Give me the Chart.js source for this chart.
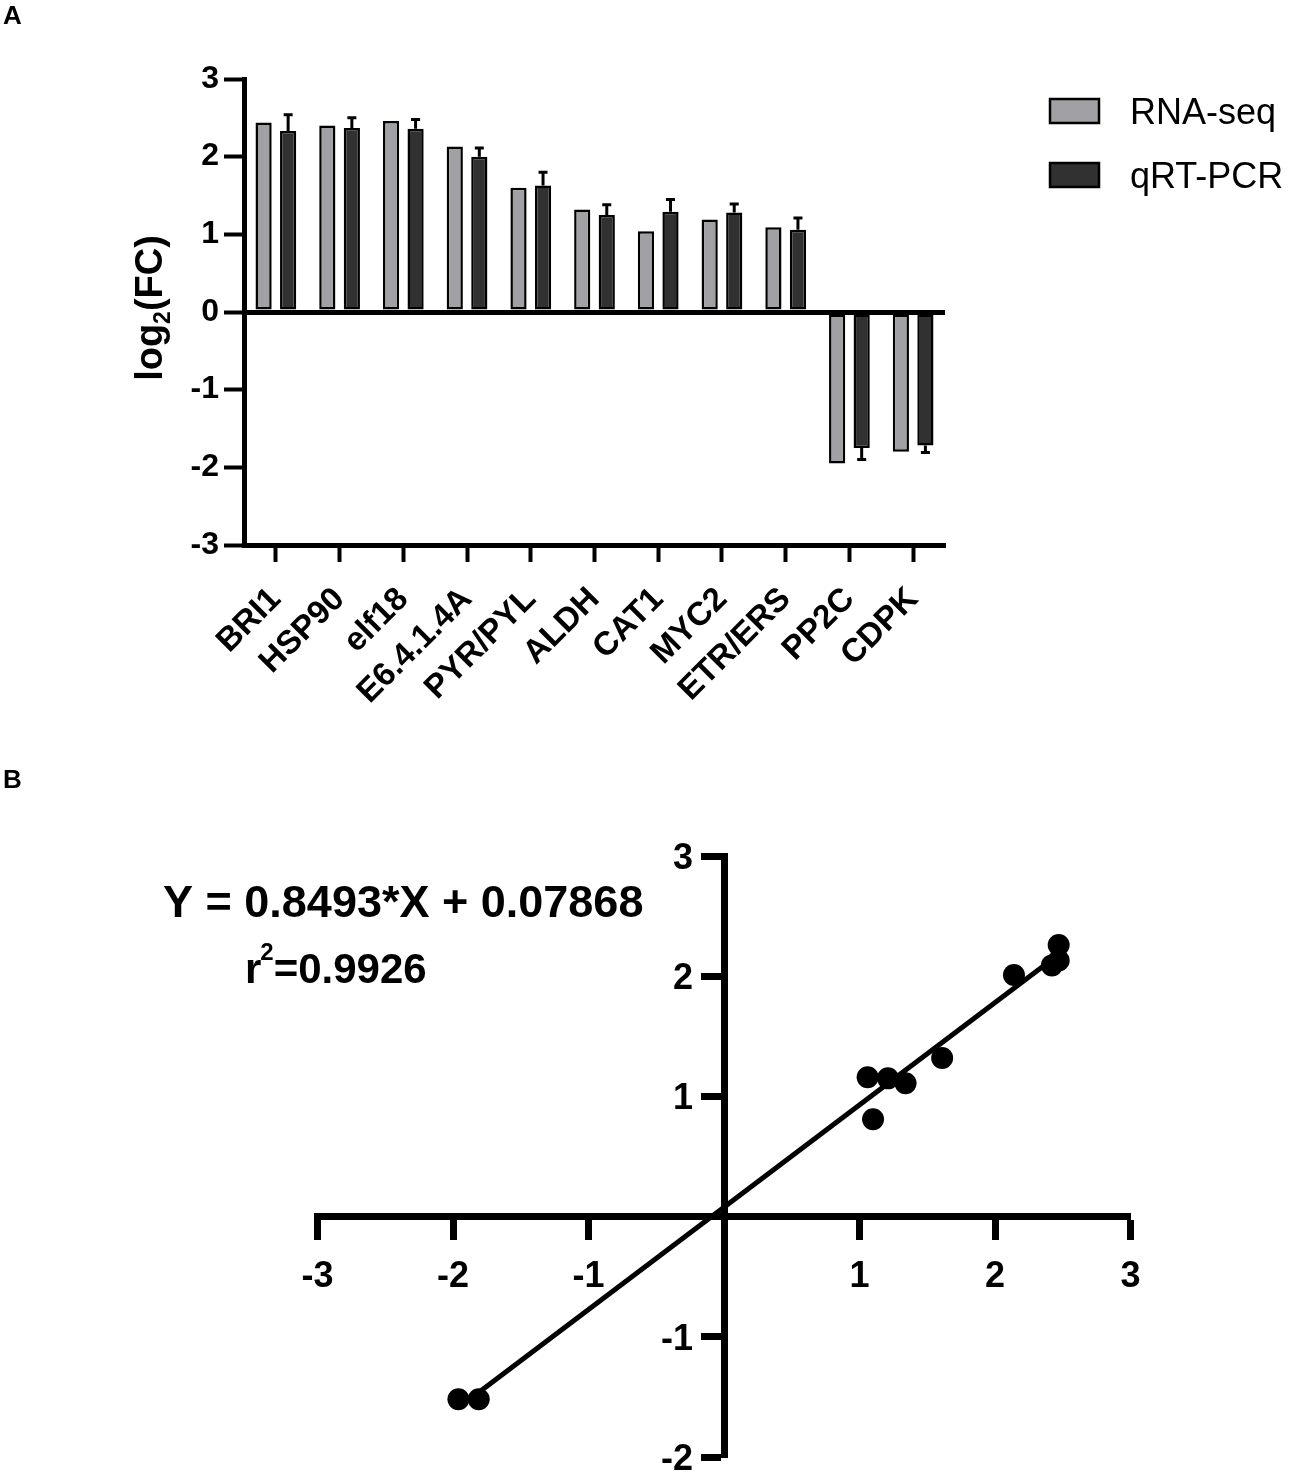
<!DOCTYPE html>
<html>
<head>
<meta charset="utf-8">
<script src="https://cdn.jsdelivr.net/npm/chart.js@4.4.1/dist/chart.umd.min.js"></script>
<style>
  html, body { margin: 0; padding: 0; background: #fff; overflow: hidden; }
  #wrap { position: relative; width: 1292px; height: 1473px; overflow: hidden; background: #fff; }
  canvas { position: absolute; left: 0; }
  #barChart { top: 0; }
  #scatterChart { top: 740px; }
</style>
</head>
<body>
<div id="wrap">
  <canvas id="barChart" width="1292" height="740"></canvas>
  <canvas id="scatterChart" width="1292" height="760"></canvas>
</div>
<script>
// Data
const genes = ['BRI1', 'HSP90', 'elf18', 'E6.4.1.4A', 'PYR/PYL', 'ALDH', 'CAT1', 'MYC2', 'ETR/ERS', 'PP2C', 'CDPK'];
const rnaSeq = [2.44, 2.40, 2.46, 2.13, 1.60, 1.32, 1.04, 1.19, 1.09, -1.95, -1.80];
const qrtPcr = [2.33, 2.37, 2.36, 2.00, 1.63, 1.25, 1.29, 1.28, 1.06, -1.75, -1.72];
const qrtErr = [0.21, 0.13, 0.12, 0.11, 0.17, 0.13, 0.16, 0.11, 0.15, 0.15, 0.09];
const yTicksA = [-3, -2, -1, 0, 1, 2, 3];

// scatter (panel B)
const scatterX = [2.47, 2.42, 2.47, 2.14, 1.61, 1.34, 1.06, 1.21, 1.10, -1.96, -1.81];
const scatterY = [2.13, 2.09, 2.26, 2.01, 1.32, 1.11, 1.16, 1.15, 0.81, -1.52, -1.52];
const fitLineX = [-1.96, 2.47];
const fitLineY = [-1.59, 2.18];
const yTicksB = [-2, -1, 1, 2, 3];
const equationText = 'Y = 0.8493*X + 0.07868';
const r2Text = '=0.9926';

const FONT = "'Liberation Sans', Arial, Helvetica, sans-serif";
Chart.defaults.font.family = FONT;
Chart.defaults.color = '#000';

// error bars on the qRT-PCR bars
const errorBars = {
  id: 'errorBars',
  afterDatasetsDraw(chart) {
    const meta = chart.getDatasetMeta(1);
    const y = chart.scales.y;
    const ctx = chart.ctx;
    ctx.save();
    ctx.strokeStyle = '#000';
    ctx.lineWidth = 3;
    meta.data.forEach((bar, i) => {
      const v = qrtPcr[i];
      const end = v >= 0 ? v + qrtErr[i] : v - qrtErr[i];
      const y0 = y.getPixelForValue(v);
      const y1 = y.getPixelForValue(end);
      ctx.beginPath();
      ctx.moveTo(bar.x, y0);
      ctx.lineTo(bar.x, y1);
      ctx.moveTo(bar.x - 4.5, y1);
      ctx.lineTo(bar.x + 4.5, y1);
      ctx.stroke();
    });
    ctx.restore();
  }
};

// panel letter, y title with subscript, legend
const panelA = {
  id: 'panelA',
  afterDraw(chart) {
    const ctx = chart.ctx;
    ctx.save();
    ctx.fillStyle = '#000';
    ctx.textBaseline = 'alphabetic';
    ctx.font = 'bold 26px ' + FONT;
    ctx.fillText('A', 3, 24);

    // log2(FC)
    ctx.save();
    ctx.translate(161.5, 308);
    ctx.rotate(-Math.PI / 2);
    ctx.font = 'bold 38px ' + FONT;
    const w1 = ctx.measureText('log').width;
    ctx.font = 'bold 23px ' + FONT;
    const w2 = ctx.measureText('2').width;
    ctx.font = 'bold 38px ' + FONT;
    const w3 = ctx.measureText('(FC)').width;
    let x = -(w1 + w2 + w3) / 2;
    ctx.fillText('log', x, 0);
    x += w1;
    ctx.font = 'bold 23px ' + FONT;
    ctx.fillText('2', x, 8);
    x += w2;
    ctx.font = 'bold 38px ' + FONT;
    ctx.fillText('(FC)', x, 0);
    ctx.restore();

    // legend
    chart.data.datasets.forEach((ds, i) => {
      const top = 99 + i * 64;
      ctx.fillStyle = ds.backgroundColor;
      ctx.fillRect(1050, top, 49, 24);
      ctx.strokeStyle = '#000';
      ctx.lineWidth = 2.5;
      ctx.strokeRect(1050, top, 49, 24);
      ctx.fillStyle = '#000';
      ctx.font = '36px ' + FONT;
      ctx.fillText(ds.label, 1130, top + 25);
    });
    ctx.restore();
  }
};

new Chart(document.getElementById('barChart'), {
  type: 'bar',
  data: {
    labels: genes,
    datasets: [{
      label: 'RNA-seq',
      data: rnaSeq,
      backgroundColor: '#a1a1a5',
      borderColor: '#000',
      borderWidth: 2.5,
      borderSkipped: false
    }, {
      label: 'qRT-PCR',
      data: qrtPcr,
      backgroundColor: '#313131',
      borderColor: '#000',
      borderWidth: 2.5,
      borderSkipped: false
    }]
  },
  options: {
    responsive: false,
    animation: false,
    barPercentage: 0.66,
    categoryPercentage: 0.77,
    layout: { padding: { left: 0, right: 347, top: 79, bottom: 0 } },
    plugins: { legend: { display: false }, tooltip: { enabled: false } },
    scales: {
      x: {
        type: 'category',
        offset: true,
        grid: { offset: false, drawOnChartArea: false, tickLength: 17, tickWidth: 4, tickColor: '#000' },
        border: { display: true, color: '#000', width: 5 },
        ticks: {
          autoSkip: false, maxRotation: 45, minRotation: 45, padding: 18,
          font: { size: 33, weight: 'bold' }, color: '#000'
        },
        afterFit(scale) { scale.height = 195; }
      },
      y: {
        min: -3, max: 3,
        afterBuildTicks(scale) { scale.ticks = yTicksA.map(v => ({ value: v })); },
        grid: {
          color: c => (c.tick && c.tick.value === 0) ? '#000' : 'rgba(0,0,0,0)',
          lineWidth: c => (c.tick && c.tick.value === 0) ? 5 : 1,
          tickLength: 20, tickWidth: 4, tickColor: '#000'
        },
        border: { display: true, color: '#000', width: 5 },
        ticks: { padding: 5, font: { size: 32, weight: 'bold' }, color: '#000' },
        afterFit(scale) { scale.width = 244; }
      }
    }
  },
  plugins: [errorBars, panelA]
});

// panel B texts and y tick labels
const panelB = {
  id: 'panelB',
  afterDraw(chart) {
    const ctx = chart.ctx;
    const ys = chart.scales.y;
    const xs = chart.scales.x;
    ctx.save();
    ctx.fillStyle = '#000';

    // y tick labels, left of the centred y axis
    ctx.font = 'bold 36px ' + FONT;
    ctx.textAlign = 'right';
    ctx.textBaseline = 'middle';
    const axisX = xs.getPixelForValue(0);
    yTicksB.forEach(v => {
      ctx.fillText(String(v), axisX - 31, ys.getPixelForValue(v) + 3);
    });

    ctx.textAlign = 'left';
    ctx.textBaseline = 'alphabetic';
    ctx.font = 'bold 26px ' + FONT;
    ctx.fillText('B', 3, 48);
    ctx.font = 'bold 45px ' + FONT;
    ctx.fillText(equationText, 163, 177);
    ctx.font = 'bold 42px ' + FONT;
    ctx.fillText('r', 245, 243);
    let x = 245 + ctx.measureText('r').width;
    ctx.font = 'bold 24px ' + FONT;
    ctx.fillText('2', x - 1, 220);
    x += ctx.measureText('2').width - 1;
    ctx.font = 'bold 42px ' + FONT;
    ctx.fillText(r2Text, x, 243);
    ctx.restore();
  }
};

new Chart(document.getElementById('scatterChart'), {
  type: 'scatter',
  data: {
    datasets: [{
      label: 'genes',
      data: scatterX.map((x, i) => ({ x: x, y: scatterY[i] })),
      pointRadius: 11,
      pointBackgroundColor: '#000',
      pointBorderWidth: 0
    }, {
      type: 'line',
      label: 'fit',
      data: fitLineX.map((x, i) => ({ x: x, y: fitLineY[i] })),
      borderColor: '#000',
      borderWidth: 5,
      pointRadius: 0,
      fill: false
    }]
  },
  options: {
    responsive: false,
    animation: false,
    layout: { padding: { left: 317.5, right: 161.5, top: 116, bottom: 43 } },
    plugins: { legend: { display: false }, tooltip: { enabled: false } },
    scales: {
      x: {
        type: 'linear',
        position: { y: 0 },
        min: -3, max: 3,
        grid: { drawOnChartArea: false, tickLength: 20, tickWidth: 7, tickColor: '#000' },
        border: { display: true, color: '#000', width: 7 },
        ticks: {
          stepSize: 1, padding: 19,
          font: { size: 36, weight: 'bold' }, color: '#000',
          callback: v => v === 0 ? '' : v
        }
      },
      y: {
        type: 'linear',
        position: { x: 0 },
        min: -2, max: 3,
        grid: { drawOnChartArea: false, tickLength: 20, tickWidth: 7, tickColor: '#000' },
        border: { display: true, color: '#000', width: 7 },
        ticks: { stepSize: 1, display: false }
      }
    }
  },
  plugins: [panelB]
});
</script>
</body>
</html>
